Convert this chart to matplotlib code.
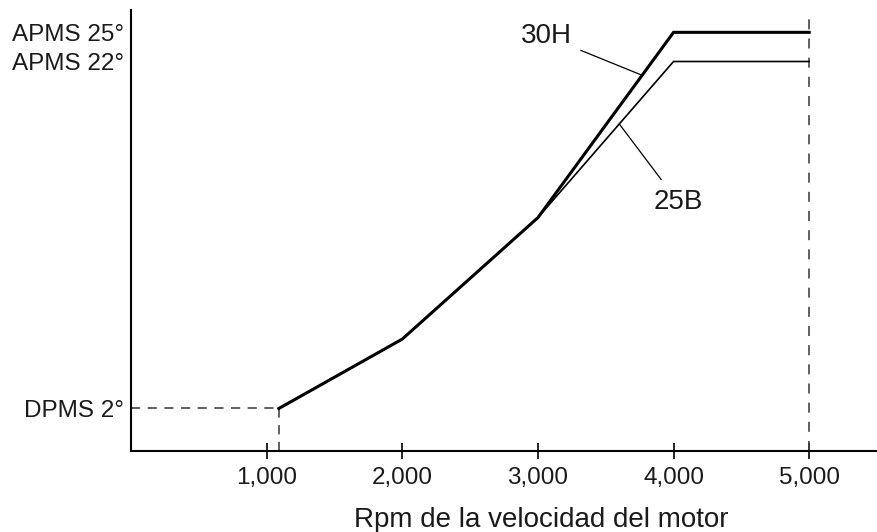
import numpy as np
import matplotlib
matplotlib.use("Agg")
import matplotlib.pyplot as plt

plt.rcParams['font.family'] = ['Liberation Sans', 'DejaVu Sans']

# rpm / advance (degrees)
rpm = [1090, 2000, 3000, 4000, 5000]
adv_25b = [2, 6, 13, 22, 22]
adv_30h = [2, 6, 13, 25, 25]

xticks = [1000, 2000, 3000, 4000, 5000]
xtick_labels = ['1,000', '2,000', '3,000', '4,000', '5,000']
yticks = [2, 22, 25]
ytick_labels = ['DPMS 2°', 'APMS 22°', 'APMS 25°']

ink = '#1a1a1a'

# the drawing squeezes the axis above 22 degrees
def fwd(y):
    return np.interp(y, [-10, 22, 40], [-10, 22, 22 + 18 * 0.56])

def inv(y):
    return np.interp(y, [-10, 22, 22 + 18 * 0.56], [-10, 22, 40])


fig = plt.figure(figsize=(8.77, 5.32), dpi=100)
ax = fig.add_axes([131 / 877, 81 / 532, 746 / 877, 441 / 532])
ax.set_yscale('function', functions=(fwd, inv))
ax.set_xlim(0, 5500)
ax.set_ylim(-0.45, 27.3)

# guide lines
ax.plot([0, rpm[0]], [adv_25b[0], adv_25b[0]], color='#444444', lw=1.2,
        dashes=(5.5, 4.5))
ax.plot([rpm[0], rpm[0]], [-0.45, adv_25b[0]], color='#444444', lw=1.2,
        dashes=(5.5, 4.5))
ax.axvline(5000, color='#444444', lw=1.2, dashes=(6, 5.5), ymax=0.985)

ax.plot(rpm, adv_25b, color='black', lw=1.2, solid_joinstyle='miter')
ax.plot(rpm, adv_30h, color='black', lw=2.2, solid_joinstyle='miter')

# labels with leader lines
ax.annotate('30H', xy=(3770, 21.2), xytext=(3060, 24.6),
            fontsize=20, color=ink, ha='center', va='center',
            arrowprops=dict(arrowstyle='-', color='black', lw=0.9,
                            shrinkA=5, shrinkB=0))
ax.annotate('25B', xy=(3600, 18.4), xytext=(4034, 13.9),
            fontsize=20, color=ink, ha='center', va='center',
            arrowprops=dict(arrowstyle='-', color='black', lw=0.9,
                            shrinkA=6, shrinkB=0))

ax.spines['top'].set_visible(False)
ax.spines['right'].set_visible(False)
ax.spines['left'].set_linewidth(1.5)
ax.spines['bottom'].set_linewidth(1.5)

ax.set_xticks(xticks)
ax.set_xticklabels(xtick_labels)
ax.set_yticks(yticks)
ax.set_yticklabels(ytick_labels)
ax.minorticks_off()
ax.tick_params(axis='x', direction='inout', length=11, width=1.2,
               labelsize=17.5, labelcolor=ink, pad=6)
ax.tick_params(axis='y', length=0, labelsize=17.5, labelcolor=ink, pad=5)

ax.set_xlabel('Rpm de la velocidad del motor', fontsize=20, color=ink)
ax.xaxis.label.set_va('center')
ax.xaxis.set_label_coords(0.55, -0.156)

fig.savefig('out.png', dpi=100)
